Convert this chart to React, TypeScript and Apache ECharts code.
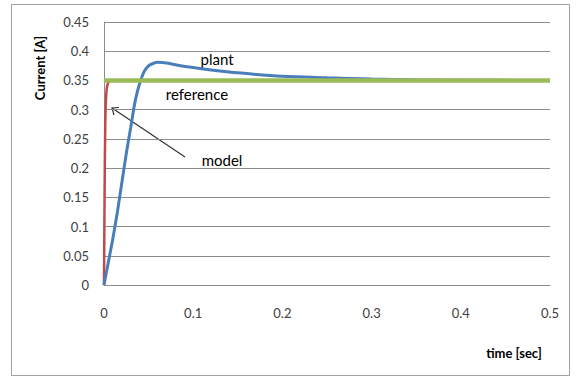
import React, { useEffect, useRef } from "react";
import * as echarts from "echarts";

const plantT = [0, 0.005, 0.01, 0.015, 0.02, 0.025, 0.03, 0.035, 0.04, 0.045, 0.05, 0.055, 0.06, 0.07, 0.08, 0.1, 0.12, 0.15, 0.2, 0.25, 0.3, 0.35, 0.4, 0.5];
const plantI = [0, 0.04, 0.08, 0.125, 0.175, 0.225, 0.27, 0.315, 0.345, 0.365, 0.375, 0.379, 0.381, 0.38, 0.377, 0.372, 0.368, 0.363, 0.357, 0.3545, 0.3525, 0.351, 0.3503, 0.35];
const modelT = [0, 0.0005, 0.001, 0.0015, 0.002, 0.003, 0.004, 0.006, 0.01, 0.5];
const modelI = [0, 0.12, 0.22, 0.28, 0.31, 0.335, 0.343, 0.348, 0.35, 0.35];
const refT = [0, 0.5];
const refI = [0.35, 0.35];
const xTicks = { min: 0, max: 0.5, interval: 0.1 };
const yTicks = { min: 0, max: 0.45, interval: 0.05 };

const zip = (a: number[], b: number[]) => a.map((v, i) => [v, b[i]]);

export default function App() {
  const ref = useRef<HTMLDivElement>(null);
  useEffect(() => {
    const chart = echarts.init(ref.current!, null, { renderer: "svg" });
    const font = "Lato, 'Open Sans', sans-serif";
    const fmt = (v: number) => String(+v.toFixed(2));
    chart.setOption({
      animation: false,
      backgroundColor: "#fff",
      grid: { left: 104, right: 28, top: 22, bottom: 94, containLabel: false },
      xAxis: {
        type: "value",
        ...xTicks,
        axisLine: { show: true, lineStyle: { color: "#8c8c8c", width: 1 } },
        axisTick: { show: false },
        splitLine: { show: false },
        axisLabel: { formatter: fmt, color: "#404040", fontSize: 13, fontFamily: font, margin: 21 },
      },
      yAxis: {
        type: "value",
        ...yTicks,
        axisLine: { show: true, lineStyle: { color: "#8c8c8c", width: 1 } },
        axisTick: { show: false },
        splitLine: { show: true, lineStyle: { color: "#8c8c8c", width: 1 } },
        axisLabel: { formatter: fmt, color: "#404040", fontSize: 13, fontFamily: font, margin: 15 },
      },
      series: [
        {
          name: "model",
          type: "line",
          data: zip(modelT, modelI),
          showSymbol: false,
          smooth: 0.3,
          lineStyle: { color: "#BE4B48", width: 2.5 },
          z: 1,
        },
        {
          name: "plant",
          type: "line",
          data: zip(plantT, plantI),
          showSymbol: false,
          smooth: 0.3,
          lineStyle: { color: "#4A7EBB", width: 3 },
          z: 2,
        },
        {
          name: "reference",
          type: "line",
          data: zip(refT, refI),
          showSymbol: false,
          lineStyle: { color: "#9BBB59", width: 4.5 },
          z: 3,
        },
      ],
      graphic: [
        {
          type: "rect",
          shape: { x: 11.5, y: 4.5, width: 558, height: 371 },
          style: { fill: "none", stroke: "#a0a0a0", lineWidth: 1 },
          z: -1,
        },
        {
          type: "text",
          x: 40,
          y: 68,
          rotation: Math.PI / 2,
          style: { text: "Current [A]", font: `bold 13px ${font}`, fill: "#000", align: "center", verticalAlign: "middle" },
        },
        {
          type: "text",
          x: 514,
          y: 353,
          style: { text: "time [sec]", font: `bold 13px ${font}`, fill: "#000", align: "center", verticalAlign: "middle" },
        },
        {
          type: "text",
          x: 217,
          y: 59,
          style: { text: "plant", font: `15px ${font}`, fill: "#000", align: "center", verticalAlign: "middle" },
        },
        {
          type: "text",
          x: 197,
          y: 94,
          style: { text: "reference", font: `15px ${font}`, fill: "#000", align: "center", verticalAlign: "middle" },
        },
        {
          type: "text",
          x: 222,
          y: 160,
          style: { text: "model", font: `15px ${font}`, fill: "#000", align: "center", verticalAlign: "middle" },
        },
        {
          type: "line",
          shape: { x1: 185, y1: 157, x2: 112, y2: 108 },
          style: { stroke: "#333", lineWidth: 1.2 },
        },
        {
          type: "polyline",
          shape: { points: [[114, 115], [112, 108], [119, 107.5]] },
          style: { stroke: "#333", lineWidth: 1.2, fill: "none" },
        },
      ],
    });
    return () => chart.dispose();
  }, []);
  return <div ref={ref} style={{ position: "fixed", left: 0, top: 0, width: 578, height: 379 }} />;
}
